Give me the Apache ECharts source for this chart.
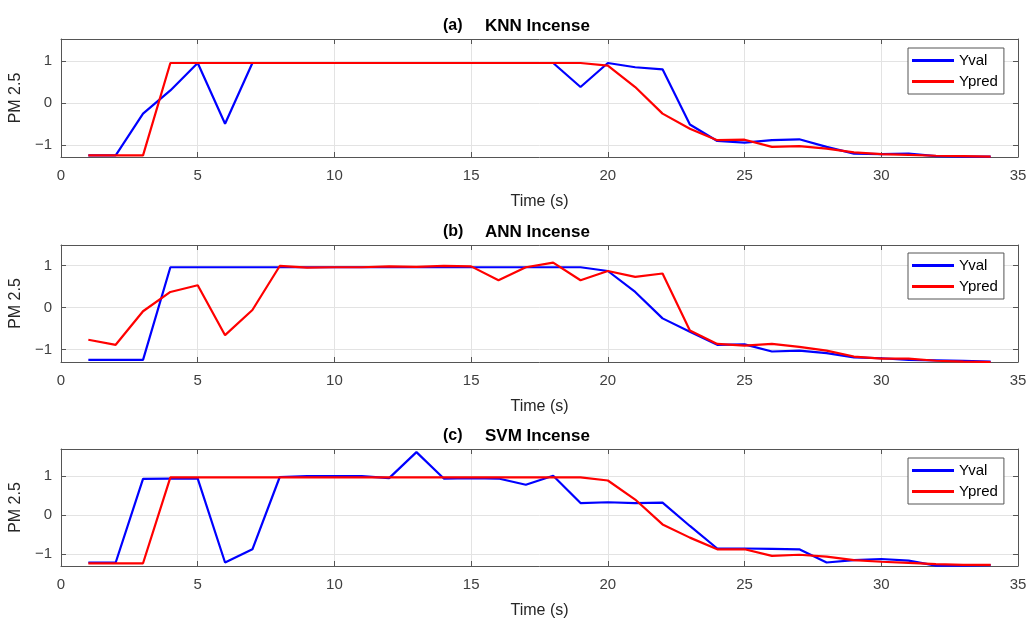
<!DOCTYPE html>
<html>
<head>
<meta charset="utf-8">
<script src="https://cdn.jsdelivr.net/npm/echarts@6/dist/echarts.min.js"></script>
<style>html,body{margin:0;padding:0;background:#fff}#c{width:1030px;height:621px}</style>
</head>
<body>
<div id="c"></div>
<script>
const time = [1,2,3,4,5,6,7,8,9,10,11,12,13,14,15,16,17,18,19,20,21,22,23,24,25,26,27,28,29,30,31,32,33,34];
const xTicks = [0,5,10,15,20,25,30,35];
const panelLetters = ['(a)','(b)','(c)'];
const panelNames = ['KNN Incense','ANN Incense','SVM Incense'];
const seriesNames = ['Yval','Ypred'];

const knnVal  = [-1.24,-1.24,-0.25,0.30,0.95,-0.49,0.95,0.95,0.95,0.95,0.95,0.95,0.95,0.95,0.95,0.95,0.95,0.95,0.38,0.95,0.85,0.80,-0.51,-0.90,-0.94,-0.88,-0.86,-1.04,-1.20,-1.21,-1.20,-1.26,-1.27,-1.27];
const knnPred = [-1.24,-1.24,-1.24,0.95,0.95,0.95,0.95,0.95,0.95,0.95,0.95,0.95,0.95,0.95,0.95,0.95,0.95,0.95,0.95,0.89,0.38,-0.25,-0.61,-0.88,-0.87,-1.04,-1.02,-1.08,-1.17,-1.21,-1.23,-1.25,-1.26,-1.27];
const annVal  = [-1.25,-1.25,-1.25,0.96,0.96,0.96,0.96,0.96,0.96,0.96,0.96,0.96,0.96,0.96,0.96,0.96,0.96,0.96,0.96,0.87,0.37,-0.26,-0.58,-0.89,-0.88,-1.05,-1.03,-1.09,-1.19,-1.21,-1.25,-1.26,-1.27,-1.29];
const annPred = [-0.77,-0.89,-0.09,0.37,0.53,-0.66,-0.06,0.99,0.95,0.96,0.96,0.98,0.97,0.99,0.98,0.65,0.96,1.07,0.65,0.87,0.73,0.81,-0.55,-0.87,-0.91,-0.87,-0.94,-1.03,-1.17,-1.22,-1.22,-1.27,-1.29,-1.30];
const svmVal  = [-1.22,-1.22,0.93,0.94,0.94,-1.22,-0.88,0.98,1.00,1.00,1.00,0.95,1.62,0.94,0.95,0.94,0.78,1.01,0.31,0.33,0.31,0.32,-0.28,-0.86,-0.86,-0.87,-0.88,-1.22,-1.16,-1.13,-1.17,-1.30,-1.30,-1.29];
const svmPred = [-1.24,-1.24,-1.24,0.97,0.97,0.97,0.97,0.97,0.97,0.97,0.97,0.97,0.97,0.97,0.97,0.97,0.97,0.97,0.97,0.89,0.40,-0.24,-0.58,-0.88,-0.88,-1.05,-1.02,-1.07,-1.16,-1.20,-1.23,-1.26,-1.28,-1.28];
const yRanges = [[-1.28,1.52],[-1.30,1.49],[-1.31,1.70]];

const panels = [[knnVal,knnPred],[annVal,annPred],[svmVal,svmPred]];
const gridTops = [39,245,449];
const gridH = [118,117,117];
const legendTops = [48,253,458];
const colors = ['#0000ff','#ff0000'];
const axisCol = '#555555';
const txtCol = '#404040';
const FONT = 'Liberation Sans, Arial, sans-serif';

const grid=[], xAxis=[], yAxis=[], series=[], title=[], legend=[];
panels.forEach((p,i)=>{
  grid.push({left:58, width:960, top:gridTops[i], height:gridH[i]});
  const xa = 2*i, ya = 2*i;
  xAxis.push({type:'value', gridIndex:i, min:0, max:35, interval:5, position:'bottom',
    name:'Time (s)', nameLocation:'middle', nameGap:37,
    nameTextStyle:{fontSize:16, color:'#262626', fontFamily:FONT},
    axisLine:{show:true, onZero:false, lineStyle:{color:axisCol, width:1}},
    axisTick:{show:true, inside:true, length:5, lineStyle:{color:axisCol}},
    axisLabel:{fontSize:15, color:txtCol, margin:11, fontFamily:FONT},
    splitLine:{show:true, lineStyle:{color:'#e3e3e3', width:1}}});
  xAxis.push({type:'value', gridIndex:i, min:0, max:35, interval:5, position:'top',
    axisLine:{show:true, onZero:false, lineStyle:{color:axisCol, width:1}},
    axisTick:{show:true, inside:true, length:5, lineStyle:{color:axisCol}},
    axisLabel:{show:false}, splitLine:{show:false}});
  yAxis.push({type:'value', gridIndex:i, min:yRanges[i][0], max:yRanges[i][1], splitNumber:3, position:'left',
    name:'PM 2.5', nameLocation:'middle', nameGap:30,
    nameTextStyle:{fontSize:16, color:'#262626', fontFamily:FONT},
    axisLine:{show:true, onZero:false, lineStyle:{color:axisCol, width:1}},
    axisTick:{show:true, inside:true, length:5, lineStyle:{color:axisCol}},
    axisLabel:{fontSize:15, color:txtCol, margin:9, fontFamily:FONT, showMinLabel:false, showMaxLabel:false,
      formatter:v=> v<0 ? '\u2212'+Math.abs(v) : String(v)},
    splitLine:{show:true, lineStyle:{color:'#e3e3e3', width:1}}});
  yAxis.push({type:'value', gridIndex:i, min:yRanges[i][0], max:yRanges[i][1], splitNumber:3, position:'right',
    axisLine:{show:true, onZero:false, lineStyle:{color:axisCol, width:1}},
    axisTick:{show:true, inside:true, length:5, lineStyle:{color:axisCol}},
    axisLabel:{show:false}, splitLine:{show:false}});
  p.forEach((arr,k)=>{
    series.push({type:'line', name:seriesNames[k], xAxisIndex:xa, yAxisIndex:ya,
      data: time.map((t,j)=>[t,arr[j]]), showSymbol:false, symbol:'none',
      lineStyle:{color:colors[k], width:2.2}, itemStyle:{color:colors[k]}, z:2+k, animation:false});
  });
  title.push({text:panelLetters[i], left:438, top:gridTops[i]-26,
    textStyle:{fontSize:16, fontWeight:'bold', color:'#000', fontFamily:FONT}});
  title.push({text:panelNames[i], left:480, top:gridTops[i]-26,
    textStyle:{fontSize:17, fontWeight:'bold', color:'#000', fontFamily:FONT}});
  legend.push({data:seriesNames, left:908, top:legendTops[i], orient:'vertical',
    icon:'rect', itemWidth:42, itemHeight:3, itemGap:6, padding:[5,6,5,4],
    backgroundColor:'#fff', borderColor:'#555', borderWidth:1, borderRadius:0,
    textStyle:{fontSize:15, color:'#000', fontFamily:FONT}, selectedMode:false});
});

const chart = echarts.init(document.getElementById('c'), null, {renderer:'canvas'});
chart.setOption({animation:false, backgroundColor:'#fff', title, grid, xAxis, yAxis, series, legend});
</script>
</body>
</html>
